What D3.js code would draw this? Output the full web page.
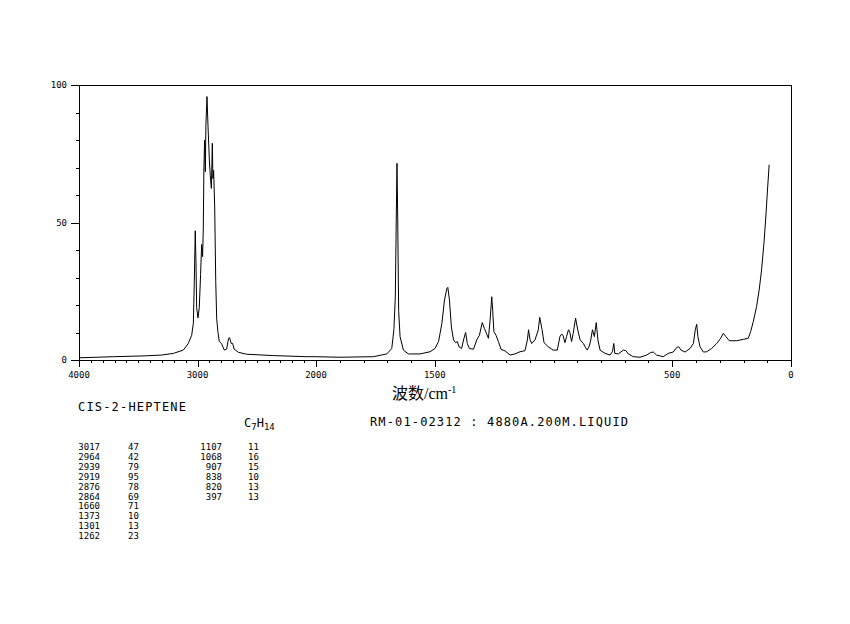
<!DOCTYPE html>
<html>
<head>
<meta charset="utf-8">
<script src="https://cdn.jsdelivr.net/npm/d3@7"></script>
<style>
  body { margin: 0; background: #fff; }
  text { font-family: "DejaVu Sans Mono", monospace; fill: #000; }
</style>
</head>
<body>
<svg width="850" height="624"></svg>
<script>
// raman spectrum, cis-2-heptene
var wavenumbers = [4000, 3710, 3450, 3302, 3204, 3120, 3078, 3049, 3035, 3027, 3019, 3013, 3007, 2996, 2985,
  2974, 2965, 2957, 2951, 2946, 2940, 2934, 2929, 2920, 2911, 2900, 2892, 2883, 2875, 2870, 2864, 2855,
  2846, 2838, 2828, 2816, 2797, 2774, 2754, 2738, 2729, 2715, 2703, 2692, 2655, 2585, 2360, 2078, 2000,
  1899, 1759, 1702, 1681, 1672, 1666, 1662, 1659, 1656, 1652, 1646, 1632, 1611, 1562, 1520, 1499, 1484,
  1470, 1459, 1449, 1445, 1438, 1430, 1421, 1412, 1405, 1398, 1387, 1377, 1370, 1363, 1354, 1337, 1323,
  1312, 1300, 1291, 1281, 1274, 1267, 1260, 1256, 1251, 1242, 1232, 1221, 1204, 1183, 1162, 1141, 1120,
  1110, 1105, 1099, 1092, 1078, 1064, 1058, 1048, 1040, 1022, 1001, 984, 973, 966, 960, 952, 945, 937,
  931, 924, 917, 907, 898, 888, 874, 867, 858, 849, 843, 836, 828, 820, 813, 804, 783, 762, 752, 746,
  742, 727, 706, 695, 685, 664, 636, 608, 591, 580, 566, 538, 517, 496, 481, 473, 463, 446, 425, 411,
  403, 397, 392, 383, 369, 355, 334, 313, 296, 285, 274, 260, 229, 201, 180, 170, 159, 145, 134, 124,
  114, 106, 99, 92];
var intensity = [0.8, 1.2, 1.5, 1.8, 2.4, 3.6, 6, 9, 13.4, 28.5, 47, 35.8, 19, 15.3, 19,
  31, 42, 37.6, 48, 70, 80, 68.5, 85.5, 95.8, 84.8, 72.7, 67, 62.4, 78.8, 66, 69, 56,
  28.5, 15, 10.3, 6.7, 6, 3.6, 4, 7.9, 8.1, 6, 6, 4, 2.8, 2.1, 1.6, 1.2, 1.2,
  1.0, 1.2, 2.2, 4.2, 11, 23, 52, 71.5, 52, 18, 8.5, 3.6, 2.2, 2.2, 3, 4.2, 6.7,
  13.3, 21.8, 26, 26.4, 21.8, 12, 7.3, 6.3, 6.7, 4.8, 4.2, 7.9, 10, 6, 4.2, 3.9, 7.3,
  9, 13.6, 11.5, 9.4, 7.9, 14.5, 23, 18, 10.3, 9, 6.7, 3.9, 3.3, 1.8, 2.2, 3, 3.4,
  7.3, 11, 7.5, 6, 7.3, 11, 15.5, 11, 6.3, 4.8, 3.6, 3.6, 8.5, 9.4, 9, 6.3, 8.5, 11,
  10, 6.7, 9.7, 15.2, 11, 7.3, 6, 4.8, 3.6, 5.1, 7.3, 11, 8.5, 13.6, 7.3, 3.6, 2.4, 1.8, 3, 6,
  2.4, 2.2, 3.6, 3.4, 2.2, 1.2, 1.0, 1.8, 2.7, 2.9, 1.8, 1.2, 2.4, 2.9, 4.6, 4.8, 3.6, 2.9, 4.2, 6,
  11, 13, 8.5, 4.8, 2.9, 3, 4.2, 6, 7.9, 9.7, 8.5, 7, 7, 7.5, 7.9, 10.3, 13.9, 19.4, 25.5, 32.7,
  42.4, 52, 61.8, 71];

var xTickLabels = [4000, 3000, 2000, 1500, 500, 0];
var yTickLabels = [0, 50, 100];

var peakWaves = ["3017", "2964", "2939", "2919", "2876", "2864", "1660", "1373", "1301", "1262",
  "1107", "1068", "907", "838", "820", "397"];
var peakVals = ["47", "42", "79", "95", "78", "69", "71", "10", "13", "23",
  "11", "16", "15", "10", "13", "13"];

var svg = d3.select("svg");
// plot box (window.top is read-only, so no "top" here)
var pLeft = 79, pRight = 791, pTop = 85, pBottom = 360;

// axis is not linear: 4000-2000 squeezed, 2000-0 at twice the scale
var x = d3.scaleLinear()
    .domain([4000, 2000, 0])
    .range([pLeft, 316, pRight]);

var y = d3.scaleLinear()
    .domain([0, 100])
    .range([pBottom, pTop]);

var g = svg.append("g").attr("shape-rendering", "crispEdges");

// frame
g.append("rect")
    .attr("x", pLeft + 0.5).attr("y", pTop + 0.5)
    .attr("width", pRight - pLeft).attr("height", pBottom - pTop)
    .attr("fill", "none").attr("stroke", "#000");

// x ticks, every 100
var xMinor = d3.range(0, 4001, 100);
g.selectAll(".xt")
    .data(xMinor)
    .enter().append("line")
    .attr("x1", function(d) { return Math.round(x(d)) + 0.5; })
    .attr("x2", function(d) { return Math.round(x(d)) + 0.5; })
    .attr("y1", pBottom)
    .attr("y2", function(d) { return xTickLabels.indexOf(d) >= 0 ? pBottom + 7 : pBottom + 3; })
    .attr("stroke", "#000");

svg.selectAll(".xl")
    .data(xTickLabels)
    .enter().append("text")
    .attr("x", function(d) { return x(d); })
    .attr("y", 378)
    .attr("text-anchor", "middle")
    .style("font-size", "9px")
    .text(function(d) { return d; });

// y ticks, every 10
g.selectAll(".yt")
    .data(d3.range(0, 101, 10))
    .enter().append("line")
    .attr("x1", function(d) { return yTickLabels.indexOf(d) >= 0 ? pLeft - 8 : pLeft - 3; })
    .attr("x2", pLeft)
    .attr("y1", function(d) { return Math.round(y(d)) + 0.5; })
    .attr("y2", function(d) { return Math.round(y(d)) + 0.5; })
    .attr("stroke", "#000");

svg.selectAll(".yl")
    .data(yTickLabels)
    .enter().append("text")
    .attr("x", 67)
    .attr("y", function(d) { return y(d) + 3; })
    .attr("text-anchor", "end")
    .style("font-size", "9px")
    .text(function(d) { return d; });

// spectrum
var pts = d3.zip(wavenumbers, intensity);
var line = d3.line()
    .x(function(d) { return x(d[0]); })
    .y(function(d) { return y(d[1]); });

svg.append("path")
    .datum(pts)
    .attr("d", line)
    .attr("fill", "none")
    .attr("stroke", "#000")
    .attr("stroke-width", 1);

// axis title
var title = svg.append("text")
    .attr("x", 392).attr("y", 399)
    .style("font-size", "16px");
title.append("tspan").style("font-family", "'Noto Sans CJK SC'").text("波数");
title.append("tspan").style("font-family", "'Liberation Serif'").text("/cm");
title.append("tspan").style("font-family", "'Liberation Serif'").style("font-size", "10px")
    .attr("dy", -6).text("-1");

// compound name and formula
svg.append("text")
    .attr("x", 78).attr("y", 411)
    .attr("textLength", 108).attr("lengthAdjust", "spacing")
    .style("font-size", "12px")
    .text("CIS-2-HEPTENE");

var formula = svg.append("text")
    .attr("x", 244).attr("y", 427)
    .style("font-size", "12px");
formula.append("tspan").text("C");
formula.append("tspan").attr("dy", 3).style("font-size", "9px").text("7");
formula.append("tspan").attr("dy", -3).text("H");
formula.append("tspan").attr("dy", 3).style("font-size", "9px").text("14");

svg.append("text")
    .attr("x", 370).attr("y", 426)
    .attr("textLength", 258).attr("lengthAdjust", "spacing")
    .style("font-size", "12px")
    .text("RM-01-02312 : 4880A.200M.LIQUID");

// peak table, two blocks of ten rows
var rows = svg.append("g").style("font-size", "9px");
peakWaves.forEach(function(w, i) {
  var col = i < 10 ? 0 : 1, row = i % 10;
  var yy = 450 + row * 9.9;
  rows.append("text")
      .attr("x", col === 0 ? 100 : 222).attr("y", yy)
      .attr("text-anchor", "end")
      .text(w);
  rows.append("text")
      .attr("x", col === 0 ? 128 : 248).attr("y", yy)
      .text(peakVals[i]);
});
</script>
</body>
</html>
